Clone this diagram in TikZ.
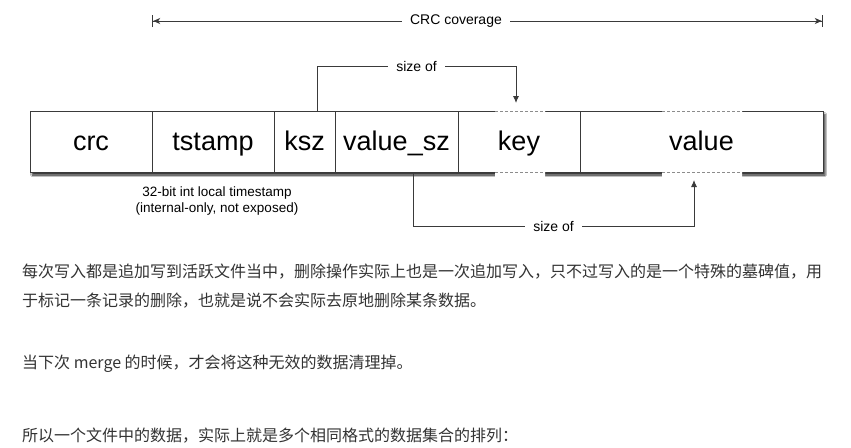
\documentclass[tikz,border=0pt]{standalone}
\usepackage{fontspec}
\setmainfont{Liberation Sans}
\newfontfamily\cjk{Noto Sans CJK SC}
\usetikzlibrary{positioning,arrows.meta,calc,backgrounds,shadows.blur}
\definecolor{bcline}{HTML}{3A3A3A}
\definecolor{bcdash}{HTML}{8C8C8C}
\definecolor{bctext}{HTML}{333333}
\tikzset{
  field/.style  ={draw=bcline, line width=0.9pt, fill=white, minimum height=61pt,
                  inner sep=0pt, outer sep=0pt, text height=22pt, text depth=5pt,
                  font=\fontsize{27}{30}\selectfont},
  lbl/.style    ={fill=white, inner xsep=8pt, inner ysep=1pt,
                  font=\fontsize{14}{16}\selectfont},
  note/.style   ={align=center, inner sep=0pt, font=\fontsize{13.5}{16}\selectfont},
  span/.style   ={draw=bcline, line width=0.9pt,
                  {Bar[width=12pt,line width=1.2pt]Stealth[length=7pt,width=6pt,inset=2pt]}-{Stealth[length=7pt,width=6pt,inset=2pt]Bar[width=12pt,line width=1.2pt]}},
  sizeof/.style ={draw=bcline, line width=0.9pt, -{Latex[length=7pt,width=6pt]}},
  para/.style   ={anchor=base west, inner sep=0pt, text=bctext,
                  font=\cjk\fontsize{16}{20}\selectfont},
}
% open a field's top and bottom edge between two offsets from its west side
\newcommand{\fieldgap}[3]{%
  \fill[white] ($(#1.north west)+(#2,-1.5)$) rectangle ($(#1.north west)+(#3,1.5)$)
    ($(#1.south west)+(#2,-1.5)$) rectangle ($(#1.south west)+(#3,6)$);
  \draw[bcdash, line width=0.9pt, dash pattern=on 3pt off 2pt]
    ($(#1.north west)+(#2,0)$) -- ($(#1.north west)+(#3,0)$)
    ($(#1.south west)+(#2,0)$) -- ($(#1.south west)+(#3,0)$);%
}

\begin{document}
\begin{tikzpicture}[x=1pt, y=-1pt]
  \useasboundingbox (0,0) rectangle (851,447);

  % the record
  \node[field, minimum width=122pt, anchor=north west] (crc) at (30,111) {crc};
  \node[field, minimum width=122pt, right=0pt of crc] (tstamp) {tstamp};
  \node[field, minimum width=61pt, right=0pt of tstamp] (ksz) {ksz};
  \node[field, minimum width=123pt, right=0pt of ksz] (valuesz) {value\_sz};
  \node[field, minimum width=122pt, right=0pt of valuesz] (key) {key};
  \node[field, minimum width=243pt, right=0pt of key] (value) {value};
  \fieldgap{key}{37}{87}
  \fieldgap{value}{82}{162}

  \begin{scope}[on background layer]
    \fill[white] (0,0) rectangle (851,447);
    \fill[white, blur shadow={shadow xshift=2pt, shadow yshift=-3pt,
      shadow blur radius=1.5pt, shadow opacity=80}]
      (crc.north west) rectangle (value.south east);
  \end{scope}

  % crc coverage
  \coordinate (covL) at ($(tstamp.north west)+(0,-90)$);
  \coordinate (covR) at ($(value.north east)+(0,-90)$);
  \draw[span] (covL) -- node[lbl, pos=.453] {CRC coverage} (covR);

  % size of
  \draw[sizeof] ($(ksz.north)+(12.5,0)$) |- node[lbl, pos=.75] {size of}
    ($(key.north)+(-3,-45)$) -- ($(key.north)+(-3,-8)$);
  \draw[sizeof] ($(valuesz.south)+(16.5,0)$) |- node[lbl, pos=.75] {size of}
    ($(value.south)+(-7.5,54)$) -- ($(value.south)+(-7.5,8)$);

  \node[note, below=15pt of tstamp, xshift=4pt] (tsnote)
    {32-bit int local timestamp\\(internal-only, not exposed)};

  % text below
  \node[para] (p1a) at (22,277) {每次写入都是追加写到活跃文件当中，删除操作实际上也是一次追加写入，只不过写入的是一个特殊的墓碑值，用};
  \node[para] (p1b) at (22,306) {于标记一条记录的删除，也就是说不会实际去原地删除某条数据。};
  \node[para] (p2) at (22,368) {当下次 merge 的时候，才会将这种无效的数据清理掉。};
  \node[para] (p3) at (22,441) {所以一个文件中的数据，实际上就是多个相同格式的数据集合的排列：};
\end{tikzpicture}
\end{document}
